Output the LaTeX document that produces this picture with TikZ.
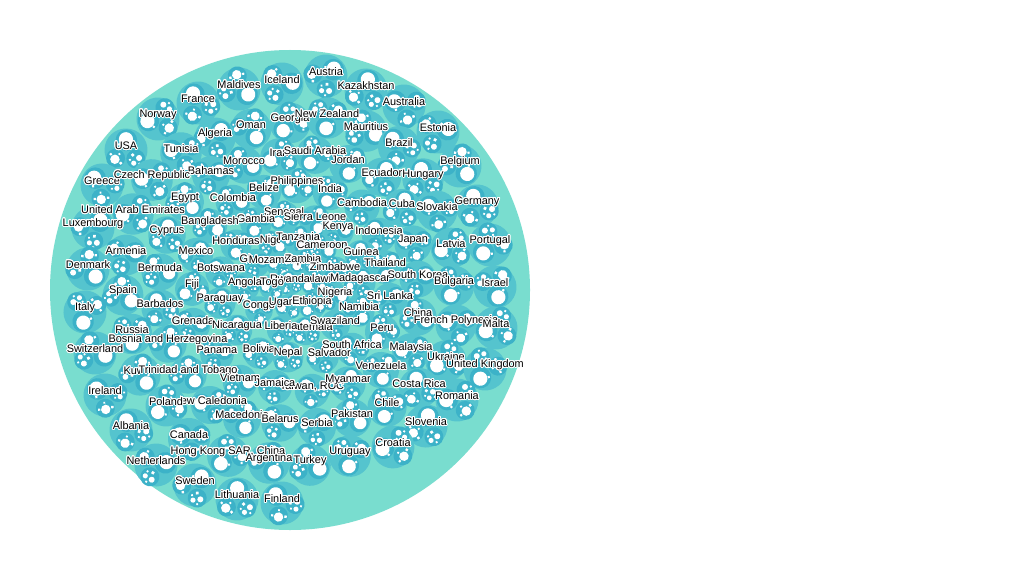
\documentclass[tikz,border=0pt]{standalone}
\usepackage{fontspec}
\setmainfont{Liberation Sans}
\usepackage[copies]{contour}
\contourlength{0.9pt}
\contournumber{20}
\definecolor{packbg}{HTML}{79DDCF}
\definecolor{ctry}{HTML}{55C4CE}
\definecolor{grp}{HTML}{3CB2C8}
\tikzset{
  bigpack/.style={fill=packbg},
  ctryfill/.style={fill=ctry},
  grpfill/.style={fill=grp},
  dotfill/.style={fill=white},
  lab/.style={font=\fontsize{10.9}{12}\selectfont, inner sep=0pt, text=black},
}
\newcommand\drawctry[3]{%
  \pgfmathsetmacro\cy{#2+4}%
  \pgfmathsetmacro\dd{veclen(#1-290,\cy-290)}%
  \pgfmathsetmacro\rr{min(21.5,12+0.05*\dd)}%
  \pgfmathsetmacro\rot{mod(#3*37,360)}%
  \begin{scope}[shift={(#1,\cy)}, scale=\rr, rotate=\rot]
    \path[ctryfill] (0,0) circle (1);
    \path[grpfill] (0,0.45) circle (0.5);
    \path[dotfill] (0.02,0.5) circle (0.33);
    \path[dotfill] (0.33,0.25) circle (0.07);
    \path[grpfill] (-0.47,-0.4) circle (0.44);
    \path[dotfill] (-0.62,-0.35) circle (0.14);
    \path[dotfill] (-0.38,-0.6) circle (0.12);
    \path[dotfill] (-0.32,-0.22) circle (0.09);
    \path[dotfill] (-0.65,-0.62) circle (0.06);
    \path[dotfill] (-0.2,-0.45) circle (0.06);
    \path[grpfill] (0.47,-0.4) circle (0.44);
    \path[dotfill] (0.5,-0.45) circle (0.22);
    \path[dotfill] (0.22,-0.62) circle (0.08);
    \path[dotfill] (0.7,-0.22) circle (0.07);
    \path[dotfill] (0.3,-0.2) circle (0.06);
  \end{scope}}
% x / y / label / visible from x / visible to x
\def\earlylist{140/371/Kuwait/0/139, 273/241/Niger/0/279, 256/259/Ghana/0/252,
  323/353/El Salvador/306/1024, 306/327/Guatemala/293/1024,
  312/387/{Taiwan, ROC}/0/1024, 210/401/New Caledonia/180/1024, 314/279/Malawi/310/1024}
\def\latelist{239/85/Maldives, 282/80/Iceland, 326/72/Austria, 366/86/Kazakhstan,
  198/99/France, 404/102/Australia, 158/115/Norway, 290/119/Georgia, 327/114/New Zealand,
  251/125/Oman, 366/127/Mauritius, 438/128/Estonia, 215/134/Algeria, 126/146/USA,
  399/143/Brazil, 181/149/Tunisia, 279/153/Iran, 315/151/Saudi Arabia, 348/160/Jordan,
  460/162/Belgium, 244/161/Morocco, 211/171/Bahamas, 382/173/Ecuador, 423/175/Hungary,
  102/181/Greece, 152/176/Czech Republic, 297/182/Philippines, 330/189/India,
  264/188/Belize, 185/198/Egypt, 233/198/Colombia, 362/203/Cambodia, 402/204/Cuba,
  477/202/Germany, 437/207/Slovakia, 133/210/United Arab Emirates, 284/213/Senegal,
  256/219/Gambia, 315/217/Sierra Leone, 210/222/Bangladesh, 338/227/Kenya,
  93/224/Luxembourg, 167/231/Cyprus, 379/231/Indonesia, 413/240/Japan, 451/244/Latvia,
  490/241/Portugal, 236/241/Honduras, 298/237/Tanzania, 322/245/Cameroon,
  126/251/Armenia, 196/251/Mexico, 361/252/Guinea, 221/268/Botswana,
  280/261/Mozambique, 303/259/Zambia, 335/267/Zimbabwe, 385/263/Thailand,
  88/265/Denmark, 160/268/Bermuda, 418/275/South Korea, 360/279/Madagascar,
  290/279/Rwanda, 245/283/Angola, 272/283/Togo, 192/285/Fiji, 454/282/Bulgaria,
  495/283/Israel, 123/291/Spain, 335/293/Nigeria, 390/296/Sri Lanka, 220/299/Paraguay,
  160/304/Barbados, 259/306/Congo, 288/303/Uganda, 312/302/Ethiopia, 85/308/Italy,
  359/307/Namibia, 418/313/China, 193/321/Grenada, 335/321/Swaziland,
  237/326/Nicaragua, 281/326/Liberia, 456/321/French Polynesia, 496/324/Malta,
  382/328/Peru, 132/330/Russia, 168/340/Bosnia and Herzegovina, 95/349/Switzerland,
  217/350/Panama, 259/349/Bolivia, 288/353/Nepal, 352/345/South Africa,
  411/348/Malaysia, 446/357/Ukraine, 485/365/United Kingdom, 381/366/Venezuela,
  188/371/Trinidad and Tobago, 240/378/Vietnam, 275/383/Jamaica, 348/380/Myanmar,
  419/384/Costa Rica, 105/391/Ireland, 457/396/Romania, 166/402/Poland, 387/403/Chile,
  242/415/Macedonia, 352/414/Pakistan, 280/419/Belarus, 317/423/Serbia,
  426/422/Slovenia, 131/426/Albania, 189/435/Canada, 393/443/Croatia,
  228/452/{Hong Kong SAR, China}, 350/452/Uruguay, 269/459/Argentina, 310/461/Turkey,
  156/461/Netherlands, 195/481/Sweden, 237/495/Lithuania, 282/499/Finland}
\begin{document}
\begin{tikzpicture}[x=1pt,y=-1pt]
  \fill[white] (0,0) rectangle (1024,580);
  \useasboundingbox (0,0) rectangle (1024,580);
  \node[circle, bigpack, minimum size=480pt, inner sep=0pt] (pack) at (290,290) {};
  \foreach \x/\y/\t/\a/\b [count=\i] in \earlylist {
    \drawctry{\x}{\y}{\i}
  }
  \foreach \x/\y/\t [count=\i] in \latelist {
    \pgfmathtruncatemacro\k{\i+20}
    \drawctry{\x}{\y}{\k}
  }
  \foreach \x/\y/\t/\a/\b [count=\i] in \earlylist {
    \begin{scope}
      \clip (\a,\y-9) rectangle (\b,\y+9);
      \node[lab] (e\i) at (\x,\y) {\contour{white}{\t}};
    \end{scope}
  }
  \foreach \x/\y/\t [count=\i] in \latelist {
    \node[lab] (c\i) at (\x,\y) {\contour{white}{\t}};
  }
\end{tikzpicture}
\end{document}
